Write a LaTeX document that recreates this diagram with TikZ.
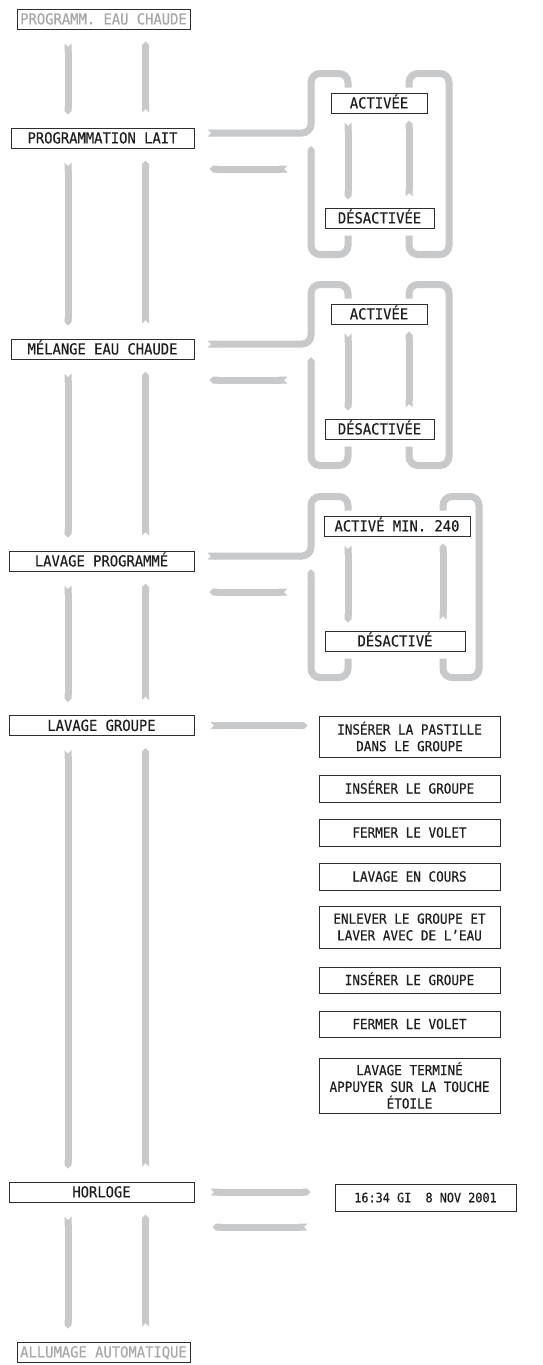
\documentclass[tikz,border=0pt]{standalone}
\usepackage{fontspec}
\newfontfamily\mono[FakeStretch=0.91,FakeBold=0.4]{DejaVu Sans Mono}
\usetikzlibrary{arrows.meta,calc}
\definecolor{bandc}{RGB}{200,201,203}
\definecolor{boxc}{RGB}{45,45,45}
\definecolor{txtc}{RGB}{30,30,30}
\definecolor{dimc}{RGB}{168,168,168}
\newcommand\optloop[5]{%
  % #1 menu node, #2 upper option, #3 lower option, #4 inner right x, #5 outer right x
  \draw[band, rounded corners=9pt, {Triangle Cap[reversed]}-]
    ($(#1.east)+(13,-5)$) -| ($(#2.north -| cl)+(0,-19)$) -| ($(#2.north -| ci)+(0,-5)$);
  \draw[band, rounded corners=9pt]
    ($(#2.north -| #4)+(0,-5)$) |- ($(#2.north -| #5)+(0,-19)$) |- ($(#3.south -| #4)+(0,26)$) -- ($(#3.south -| #4)+(0,7)$);
  \draw[band, rounded corners=9pt, -{Triangle Cap}]
    ($(#3.south -| ci)+(0,7)$) |- ($(#3.south -| cl)+(0,26)$) -- ($(#1.east -| cl)+(0,8)$);
  \draw[arr, shorten <=9pt, shorten >=8pt] (#2.south -| ci) -- (#3.north -| ci);
  \draw[arr, shorten <=11pt, shorten >=7pt] (#3.north -| #4) -- (#2.south -| #4);
  \draw[arr] ($(#1.east)+(93,31)$) -- ($(#1.east)+(15,31)$);
}
\begin{document}
\begin{tikzpicture}[x=1pt,y=-1pt,
  box/.style={draw=boxc, line width=1pt, fill=white, inner sep=0pt, text=txtc,
    font=\mono\fontsize{15.2}{16}\selectfont, minimum height=20pt, align=center},
  oneline/.style={text height=10.8pt, text depth=0pt},
  menu/.style={box, oneline, minimum width=184pt},
  opt/.style={box, oneline},
  dimmenu/.style={box, oneline, text=dimc, minimum width=173pt},
  listbox/.style={box, minimum width=181pt, font=\mono\fontsize{13.9}{16.7}\selectfont},
  band/.style={draw=bandc, line width=7pt},
  arr/.style={band, {Triangle Cap[reversed]}-{Triangle Cap}}]
\fill[white] (0,0) rectangle (542,1365);
\useasboundingbox (0,0) rectangle (542,1365);

% column coordinates
\coordinate (cL) at (68,0);
\coordinate (cR) at (145.5,0);
\coordinate (cl) at (311,0);
\coordinate (ci) at (348,0);
\coordinate (crA) at (409,0);
\coordinate (coA) at (449,0);
\coordinate (crB) at (443,0);
\coordinate (coB) at (479,0);

% main menu
\node[dimmenu] (m0) at (103.5,19) {PROGRAMM. EAU CHAUDE};
\node[menu, minimum width=183pt] (m1) at (102.5,138) {PROGRAMMATION LAIT};
\node[menu, minimum width=183pt] (m2) at (102.5,349) {MÉLANGE EAU CHAUDE};
\node[menu, minimum width=185pt] (m3) at (101.5,561) {LAVAGE PROGRAMMÉ};
\node[menu, minimum width=185pt] (m4) at (101.5,725.5) {LAVAGE GROUPE};
\node[menu, minimum width=185pt] (m6) at (101.5,1192) {HORLOGE};
\node[dimmenu] (m7) at (103.5,1352) {ALLUMAGE AUTOMATIQUE};

% option boxes
\node[opt, minimum width=96pt] (a1) at (379,103) {ACTIVÉE};
\node[opt, minimum width=109pt] (d1) at (379.5,218) {DÉSACTIVÉE};
\node[opt, minimum width=96pt] (a2) at (379,314) {ACTIVÉE};
\node[opt, minimum width=109pt] (d2) at (379.5,429) {DÉSACTIVÉE};
\node[opt, minimum width=146pt] (a3) at (397,526) {ACTIVÉ MIN. 240};
\node[opt, minimum width=140pt] (d3) at (395,641) {DÉSACTIVÉ};

% washing steps
\node[listbox, minimum height=41pt] (l1) at (409.5,736.5) {INSÉRER LA PASTILLE\\DANS LE GROUPE};
\node[listbox, oneline, text height=10pt, minimum height=27pt] (l2) at (409.5,788.5) {INSÉRER LE GROUPE};
\node[listbox, oneline, text height=10pt, minimum height=27pt] (l3) at (409.5,832.5) {FERMER LE VOLET};
\node[listbox, oneline, text height=10pt, minimum height=27pt] (l4) at (409.5,876.5) {LAVAGE EN COURS};
\node[listbox, minimum height=42pt] (l5) at (409.5,927) {ENLEVER LE GROUPE ET\\LAVER AVEC DE L’EAU};
\node[listbox, oneline, text height=10pt, minimum height=26pt] (l6) at (409.5,980) {INSÉRER LE GROUPE};
\node[listbox, oneline, text height=10pt, minimum height=26pt] (l7) at (409.5,1024) {FERMER LE VOLET};
\node[listbox, minimum height=55pt] (l8) at (409.5,1085.5) {LAVAGE TERMINÉ\\APPUYER SUR LA TOUCHE\\ÉTOILE};

% clock
\node[listbox, oneline, text height=9.5pt, minimum height=27pt, font=\mono\fontsize{13}{14}\selectfont] (t) at (425.5,1197.5) {16:34 GI\ \ 8 NOV 2001};

% vertical navigation arrows
\foreach \a/\b in {m0/m1,m1/m2,m2/m3,m3/m4,m4/m6,m6/m7} {
  \draw[arr, shorten <=14pt, shorten >=13pt] (\a.south -| cL) -- (\b.north -| cL);
  \draw[arr, shorten <=15pt, shorten >=12pt] (\b.north -| cR) -- (\a.south -| cR);
}

% option loops
\optloop{m1}{a1}{d1}{crA}{coA}
\optloop{m2}{a2}{d2}{crA}{coA}
\optloop{m3}{a3}{d3}{crB}{coB}

% lavage groupe
\draw[arr, shorten <=16pt, shorten >=11pt] (m4.east) -- (m4.east -| l1.west);

% horloge
\draw[arr, shorten <=16pt, shorten >=24pt] (m6.east) -- (m6.east -| t.west);
\draw[arr] ($(m6.east -| t.west)+(-27,35)$) -- ($(m6.east)+(18,35)$);
\end{tikzpicture}
\end{document}
